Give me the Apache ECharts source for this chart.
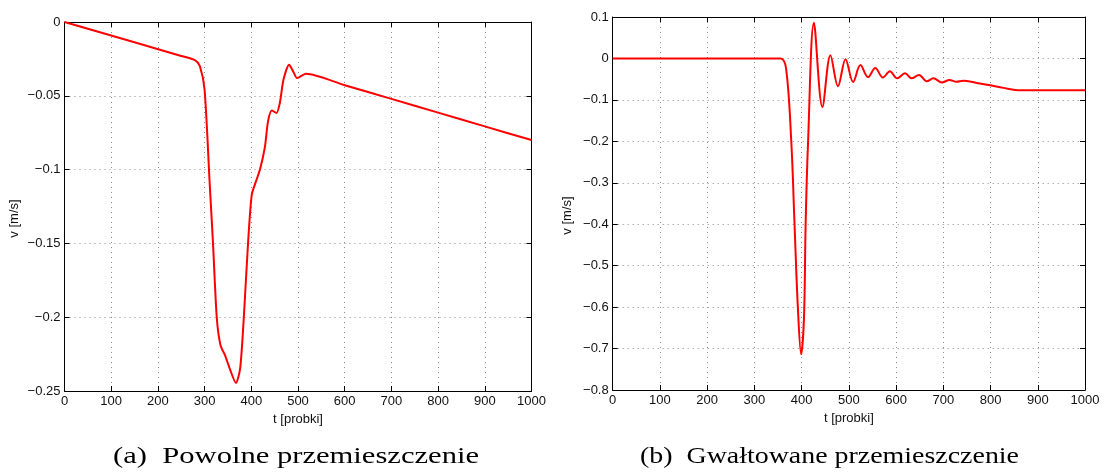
<!DOCTYPE html>
<html>
<head>
<meta charset="utf-8">
<script src="https://cdn.jsdelivr.net/npm/echarts@6/dist/echarts.min.js"></script>
<style>
  html, body { margin: 0; padding: 0; background: #fff; }
  #chart { width: 1105px; height: 472px; }
</style>
</head>
<body>
<div id="chart"></div>
<script>
// (a) slow displacement: sample index vs velocity
const slowT = [0, 250, 280, 290, 300, 311, 318, 326, 334, 344, 354, 367, 376, 384, 393, 401, 410, 419, 429, 436, 444, 454, 461, 469, 481, 490, 498, 517, 600, 700, 800, 900, 1000];
const slowV = [0, -0.023, -0.026, -0.030, -0.046, -0.110, -0.150, -0.200, -0.219, -0.226, -0.235, -0.2445, -0.235, -0.200, -0.150, -0.117, -0.108, -0.0995, -0.085, -0.067, -0.060, -0.0616, -0.055, -0.039, -0.029, -0.0337, -0.038, -0.035, -0.0428, -0.0521, -0.0614, -0.0707, -0.080];

// (b) abrupt displacement
const fastT = [0, 355, 367, 378, 385, 392, 399, 405, 408.5, 413.4, 426, 444, 461, 477, 493, 509, 524.5, 540.6, 556, 572, 587, 602, 619, 633, 648.5, 665, 679, 697, 713, 728, 742, 771, 799, 827, 858, 1000];
const fastV = [0, 0, -0.024, -0.198, -0.400, -0.600, -0.714, -0.626, -0.400, -0.210, 0.086, -0.117, 0.008, -0.067, -0.002, -0.057, -0.016, -0.045, -0.023, -0.046, -0.031, -0.048, -0.036, -0.048, -0.040, -0.055, -0.048, -0.058, -0.052, -0.0565, -0.054, -0.059, -0.0645, -0.071, -0.0766, -0.0766];

// axis ranges and labels
const tMin = 0, tMax = 1000, tStep = 100;
const slowVMin = -0.25, slowVMax = 0, slowVStep = 0.05;
const fastVMin = -0.8, fastVMax = 0.1, fastVStep = 0.1;
const xName = 't [probki]';
const yName = 'v [m/s]';
const captionA = '(a)\u2002Powolne przemieszczenie';
const captionB = '(b)\u2002Gwałtowane przemieszczenie';

const pairs = (xs, ys) => xs.map((x, i) => [x, ys[i]]);
const fmt = v => {
  const r = parseFloat(v.toFixed(3));
  return r === 0 ? '0' : String(r).replace('-', '\u2212');
};

const FONT = '"Liberation Sans", Arial, sans-serif';
const CAPTION_FONT = '24px "Liberation Serif", serif';
const axisLine = { show: true, onZero: false, lineStyle: { color: '#000', width: 1 } };
const tick = { show: true, inside: true, length: 5, lineStyle: { color: '#000', width: 1 } };
const grid = { show: true, lineStyle: { color: '#8a8a8a', width: 1, type: [1, 4] } };
const label = { color: '#111', fontFamily: FONT, fontSize: 13 };

function xAxes(gridIndex) {
  return [
    { type: 'value', gridIndex, position: 'bottom', min: tMin, max: tMax, interval: tStep,
      axisLine, axisTick: tick, splitLine: grid,
      axisLabel: Object.assign({ margin: 4, formatter: fmt }, label),
      name: xName, nameLocation: 'middle', nameGap: 17,
      nameTextStyle: { color: '#111', fontFamily: FONT, fontSize: 13 } },
    { type: 'value', gridIndex, position: 'top', min: tMin, max: tMax, interval: tStep,
      axisLine, axisTick: tick, splitLine: { show: false }, axisLabel: { show: false } }
  ];
}
function yAxes(gridIndex, min, max, step, gap) {
  return [
    { type: 'value', gridIndex, position: 'left', min, max, interval: step,
      axisLine, axisTick: tick, splitLine: grid,
      axisLabel: Object.assign({ margin: 4, formatter: fmt }, label),
      name: yName, nameLocation: 'middle', nameGap: gap,
      nameTextStyle: { color: '#111', fontFamily: FONT, fontSize: 13, padding: [0, 24, 0, 0] } },
    { type: 'value', gridIndex, position: 'right', min, max, interval: step,
      axisLine, axisTick: tick, splitLine: { show: false }, axisLabel: { show: false } }
  ];
}

// caption text is widened to the span it occupies under each panel
const measureCtx = document.createElement('canvas').getContext('2d');
measureCtx.font = CAPTION_FONT;
function caption(text, cx, span) {
  const w = measureCtx.measureText(text).width;
  return { type: 'text', x: cx, y: 457, scaleX: span / w,
    style: { text, font: CAPTION_FONT, fill: '#000', textAlign: 'center', textVerticalAlign: 'middle' } };
}

const chart = echarts.init(document.getElementById('chart'), null, { renderer: 'canvas' });
chart.setOption({
  animation: false,
  backgroundColor: '#fff',
  grid: [
    { left: 64.5, top: 22, width: 467, height: 369 },
    { left: 612.7, top: 17, width: 472.3, height: 373 }
  ],
  xAxis: [...xAxes(0), ...xAxes(1)],
  yAxis: [...yAxes(0, slowVMin, slowVMax, slowVStep, 44), ...yAxes(1, fastVMin, fastVMax, fastVStep, 39)],
  series: [
    { type: 'line', xAxisIndex: 0, yAxisIndex: 0, data: pairs(slowT, slowV),
      smooth: 0.25, showSymbol: false, lineStyle: { color: '#ff0000', width: 2 } },
    { type: 'line', xAxisIndex: 2, yAxisIndex: 2, data: pairs(fastT, fastV),
      smooth: 0.35, showSymbol: false, lineStyle: { color: '#ff0000', width: 2 } }
  ],
  graphic: [
    caption(captionA, 296, 366),
    caption(captionB, 829.5, 379)
  ]
});
</script>
</body>
</html>
